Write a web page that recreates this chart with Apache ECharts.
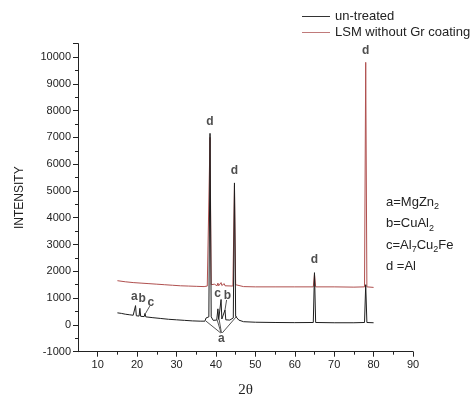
<!DOCTYPE html>
<html><head><meta charset="utf-8">
<script src="https://cdn.jsdelivr.net/npm/echarts@6/dist/echarts.min.js"></script>
<style>html,body{margin:0;padding:0;background:#fff}#c{width:473px;height:401px}</style>
</head><body><div id="c"></div>
<script>
// 2θ / intensity pairs
const untreated = [
  [15,450],[16,430],[17,400],[18,380],[19,360],[19.4,350],[19.6,720],[19.8,340],[20.5,330],[20.7,620],[20.9,320],
  [21.8,310],[22.0,430],[22.2,300],[24,270],[26,240],[28,210],[30,190],[32,170],[34,150],[36,140],[37.2,140],
  [37.5,260],[37.8,190],[38.2,300],[38.5,7150],[38.8,300],[39.3,170],[40.2,180],[40.5,600],[40.7,200],[41.1,220],
  [41.3,950],[41.5,220],[42.0,200],[42.3,560],[42.5,190],[43.5,180],[44.4,260],[44.7,5300],[45.0,320],[45.4,340],
  [45.8,180],[47,120],[50,100],[55,90],[60,85],[64.7,90],[65.0,1950],[65.3,90],[70,80],[75,80],[77.7,90],
  [78.0,1500],[78.3,90],[80,80]
];
const lsm = [
  [15,1650],[17,1610],[19,1580],[21,1560],[23,1540],[25,1520],[27,1500],[29,1480],[31,1460],[33,1450],[35,1440],
  [37,1430],[37.8,1450],[38.2,1500],[38.5,7000],[38.8,1500],[39.3,1450],[39.6,1520],[39.9,1450],[40.3,1460],
  [40.5,1560],[40.7,1460],[41.1,1470],[41.3,1580],[41.5,1470],[41.9,1460],[42.1,1540],[42.3,1460],[44.3,1450],
  [44.7,5200],[45.0,1500],[45.5,1450],[47,1430],[50,1420],[55,1420],[60,1420],[64.7,1420],[65.0,1900],[65.3,1420],
  [70,1420],[75,1410],[77.7,1420],[78.0,9800],[78.3,1420],[80,1400]
];
const seriesNames = ['un-treated','LSM without Gr coating'];
const xRange = {min:5, max:90};
const xMajorTicks = [10,20,30,40,50,60,70,80,90];
const xMinorTicks = [15,25,35,45,55,65,75,85];
const yTicks = {min:-1000, max:10500, interval:1000};
// peak letter labels [x, y, text]
const peakLabels = [
  [38.5,7600,'d'],[44.7,5760,'d'],[65.0,2420,'d'],[78.0,10250,'d'],
  [19.3,1050,'a'],[21.3,970,'b'],[23.5,820,'c'],[40.4,1160,'c'],[42.9,1090,'b'],[41.4,-520,'a']
];
// leader lines [x1,y1,x2,y2]
const leaders = [
  [37.4,150,41.2,-300],[40.3,190,41.3,-300],[40.8,210,41.4,-300],[45.3,330,41.6,-300],
  [22.1,420,23.2,700],[42.3,560,42.7,930]
];
const phaseKey = [
  ['a=MgZn','2'],['b=CuAl','2'],['c=Al','7','Cu','2','Fe'],['d =Al','']
];

const chart = echarts.init(document.getElementById('c'));
const lineCol = '#222';
function richFormula(parts){
  if(parts.length===5) return '{n|'+parts[0]+'}{s|'+parts[1]+'}{n|'+parts[2]+'}{s|'+parts[3]+'}{n|'+parts[4]+'}';
  return '{n|'+parts[0]+'}'+(parts[1]?'{s|'+parts[1]+'}':'');
}
const keyGraphics = phaseKey.map((p,i)=>({
  type:'text', left:386, top:196+i*21.3,
  style:{text:richFormula(p),
    rich:{n:{fontSize:13,lineHeight:18,fontFamily:'Liberation Sans',fill:'#222'},
          s:{fontSize:9,lineHeight:9,verticalAlign:'bottom',fontFamily:'Liberation Sans',fill:'#222'}}}
}));

chart.setOption({
  animation:false,
  backgroundColor:'#fff',
  grid:{left:78,right:60,top:43.6,bottom:49.3,containLabel:false,outerBoundsMode:'none'},
  legend:{
    data:seriesNames, orient:'vertical', left:297, top:5, itemWidth:28, itemHeight:10, itemGap:3,
    textStyle:{fontSize:13,color:'#222',fontFamily:'Liberation Sans'}, icon:'path://M0,5L28,5L28,6L0,6Z'
  },
  xAxis:[
    {type:'value',min:xRange.min,max:xRange.max,
      name:'2θ',nameLocation:'middle',nameGap:31,
      nameTextStyle:{fontSize:15,color:'#222',fontFamily:'Liberation Serif'},
      axisLine:{show:true,onZero:false,lineStyle:{color:lineCol,width:1}},
      axisTick:{show:true,inside:false,length:5,customValues:xMajorTicks,lineStyle:{color:lineCol}},
      splitLine:{show:false},
      axisLabel:{color:'#222',fontSize:11,fontFamily:'Liberation Sans',margin:8,customValues:xMajorTicks}},
    {type:'value',min:xRange.min,max:xRange.max,position:'bottom',
      axisLine:{show:false,onZero:false},
      axisTick:{show:true,inside:false,length:3,customValues:xMinorTicks,lineStyle:{color:lineCol}},
      splitLine:{show:false},axisLabel:{show:false}}
  ],
  yAxis:{type:'value',min:yTicks.min,max:yTicks.max,interval:yTicks.interval,
    name:'INTENSITY',nameLocation:'middle',nameGap:52,
    nameTextStyle:{fontSize:12,color:'#222',fontFamily:'Liberation Sans'},
    axisLine:{show:true,onZero:false,lineStyle:{color:lineCol,width:1}},
    axisTick:{show:true,inside:false,length:5,lineStyle:{color:lineCol}},
    minorTick:{show:true,splitNumber:2,length:3,lineStyle:{color:lineCol}},
    splitLine:{show:false},
    axisLabel:{color:'#222',fontSize:11,fontFamily:'Liberation Sans',margin:7,
      formatter:v=>v>10000?'':String(v)}},
  graphic:keyGraphics,
  series:[
    {name:seriesNames[1],type:'line',data:lsm,symbol:'none',z:2,
      lineStyle:{color:'#b0504f',width:1},itemStyle:{color:'#c07a7a'}},
    {name:seriesNames[0],type:'line',data:untreated,symbol:'none',z:3,
      lineStyle:{color:'#1e1e1e',width:1},itemStyle:{color:'#333'},
      markLine:{silent:true,symbol:'none',animation:false,
        lineStyle:{color:'#555',width:1,type:'solid'},label:{show:false},
        data:leaders.map(l=>[{coord:[l[0],l[1]]},{coord:[l[2],l[3]]}])}},
    {type:'scatter',symbolSize:0,z:4,silent:true,
      data:peakLabels.map(p=>({value:[p[0],p[1]],name:p[2]})),
      label:{show:true,position:'inside',formatter:'{b}',fontSize:12,fontWeight:'bold',
        color:'#222',fontFamily:'Liberation Sans'}}
  ]
});
</script></body></html>
